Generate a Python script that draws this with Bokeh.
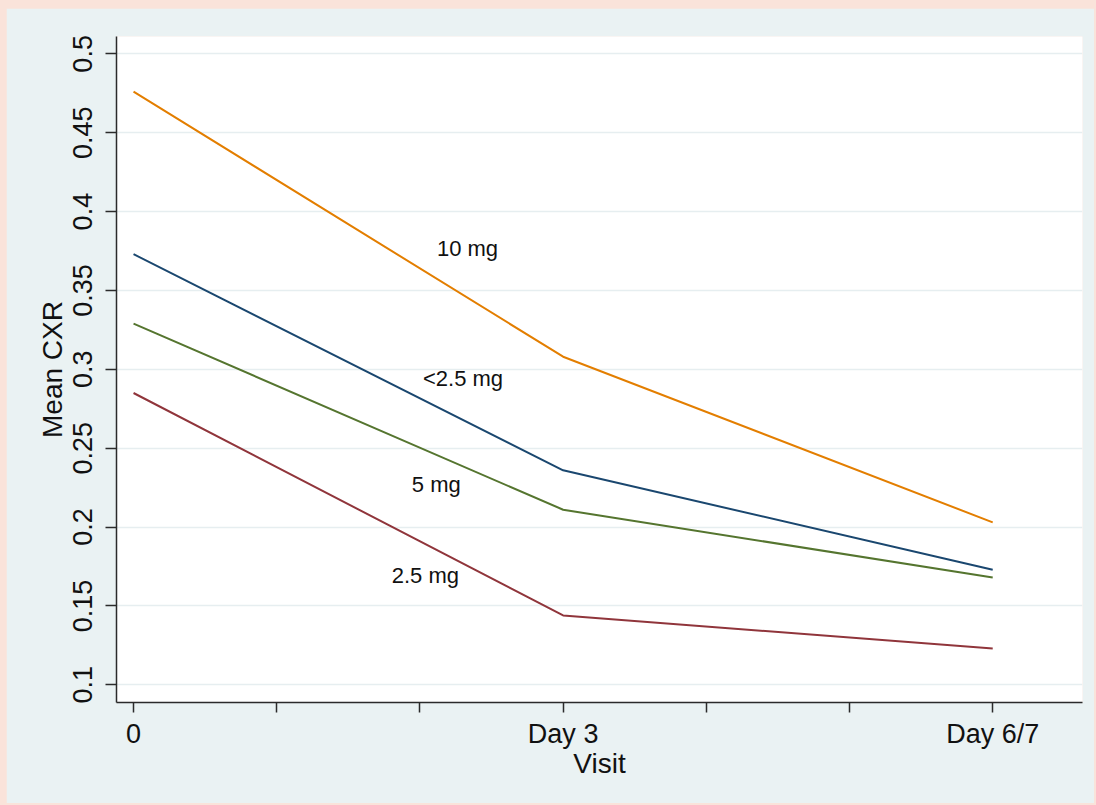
from bokeh.plotting import figure
from bokeh.models import FixedTicker, Range1d, ColumnDataSource, GlobalInlineStyleSheet
from bokeh.core.properties import value
from bokeh.embed import file_html
from bokeh.resources import INLINE

# ---- data ----
visit_x = [0, 3, 6]
x_ticks = [0, 1, 2, 3, 4, 5, 6]
x_tick_labels = ["0", "", "", "Day 3", "", "", "Day 6/7"]
y_ticks = [0.1, 0.15, 0.2, 0.25, 0.3, 0.35, 0.4, 0.45, 0.5]
y_tick_labels = ["0.1", "0.15", "0.2", "0.25", "0.3", "0.35", "0.4", "0.45", "0.5"]

series_names = ["<2.5 mg", "2.5 mg", "5 mg", "10 mg"]
lt25_mg = [0.373, 0.236, 0.173]
mg_2_5 = [0.285, 0.144, 0.123]
mg_5 = [0.329, 0.211, 0.168]
mg_10 = [0.476, 0.308, 0.203]
series_values = [lt25_mg, mg_2_5, mg_5, mg_10]
series_colors = ["#1A476F", "#90353B", "#55752F", "#E37E00"]

label_x = [2.301, 2.038, 2.114, 2.332]
label_y = [0.2945, 0.169, 0.2273, 0.3767]

FONT = "Liberation Sans"
BG = "#EAF2F3"

p = figure(width=1088, height=795, output_backend="svg", toolbar_location=None,
           x_range=Range1d(-0.119, 6.627), y_range=Range1d(0.0888, 0.511),
           min_border_left=110, min_border_right=12, min_border_top=28, min_border_bottom=101)
p.stylesheets = [GlobalInlineStyleSheet(
    css="html, body { background-color: #FAE3DA; } body { padding: 8px 0 0 6px !important; overflow: hidden; }")]
p.background_fill_color = "white"
p.border_fill_color = BG
p.outline_line_color = None

for vals, col in zip(series_values, series_colors):
    p.line(visit_x, vals, line_color=col, line_width=2)

src = ColumnDataSource(dict(x=label_x, y=label_y, t=series_names))
p.text(x="x", y="y", text="t", source=src, text_font=value(FONT), text_font_size="22px",
       text_align="center", text_baseline="alphabetic", text_color="#111111")

# axes
for ax in (p.xaxis[0], p.yaxis[0]):
    ax.axis_line_color = "#2b2b2b"
    ax.axis_line_width = 1.5
    ax.major_tick_line_color = "#2b2b2b"
    ax.major_tick_line_width = 1.5
    ax.major_tick_in = 0
    ax.minor_tick_line_color = None
    ax.major_label_text_font = FONT
    ax.major_label_text_font_size = "27px"
    ax.major_label_text_color = "#111111"
    ax.axis_label_text_font = FONT
    ax.axis_label_text_font_size = "28px"
    ax.axis_label_text_font_style = "normal"
    ax.axis_label_text_color = "#111111"

p.xaxis.ticker = FixedTicker(ticks=x_ticks)
p.xaxis.major_label_overrides = {t: l for t, l in zip(x_ticks, x_tick_labels)}
p.xaxis.major_tick_out = 10
p.xaxis.major_label_standoff = 6
p.xaxis.axis_label = "Visit"
p.xaxis.axis_label_standoff = -4

p.yaxis.ticker = FixedTicker(ticks=y_ticks)
p.yaxis.major_label_overrides = {t: l for t, l in zip(y_ticks, y_tick_labels)}
p.yaxis.major_tick_out = 11
p.yaxis.major_label_standoff = 13
p.yaxis.major_label_orientation = "vertical"
p.yaxis.axis_label = "Mean CXR"
p.yaxis.axis_label_standoff = 3

p.xgrid.grid_line_color = None
p.ygrid.grid_line_color = "#E6EEF0"
p.ygrid.grid_line_width = 1.5

open("out.html", "w").write(file_html(p, INLINE))
